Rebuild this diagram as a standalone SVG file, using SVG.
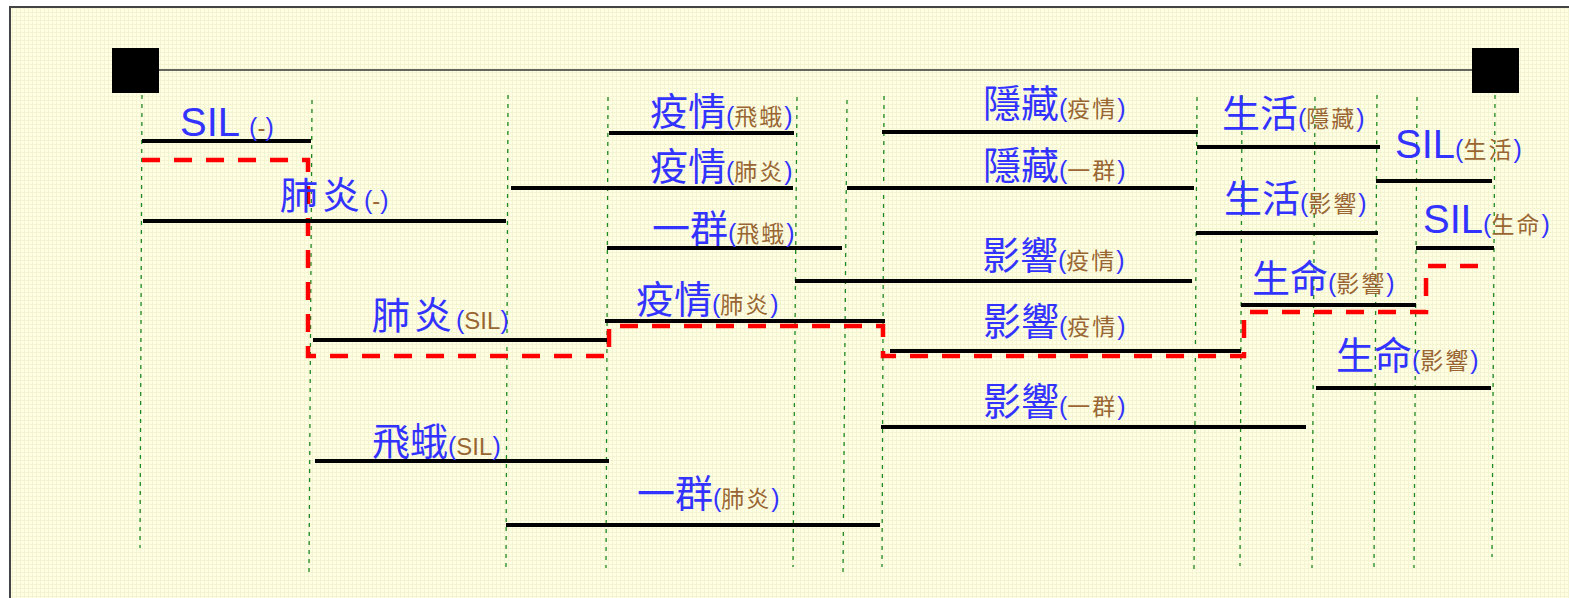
<svg xmlns="http://www.w3.org/2000/svg" width="1569" height="598" viewBox="0 0 1569 598">
<defs>
<pattern id="grid" width="4" height="4" patternUnits="userSpaceOnUse">
<rect width="4" height="4" fill="#ffffe4"/>
<path d="M0 0.5H4M0.5 0V4" stroke="#f4f4d2" stroke-width="1"/>
</pattern>
<style>
.guide{stroke:#1f8a1f;stroke-width:1.3;stroke-dasharray:4 5;fill:none}
.arc{stroke:#000;stroke-width:4;fill:none}
.path{stroke:#ff0000;stroke-width:4.5;stroke-dasharray:18 14;fill:none}
.m{font-family:"Noto Sans CJK TC","Noto Sans CJK SC",sans-serif;font-size:38px;fill:#3333ff}
.s{font-family:"Liberation Sans",Arial,sans-serif;font-size:40px;fill:#3333ff}
.pp{font-family:"Liberation Sans",Arial,sans-serif;font-size:25px;fill:#3333ff}
.b{font-family:"Noto Sans CJK TC","Noto Sans CJK SC",sans-serif;font-size:23px;fill:#996633;letter-spacing:2px}
.bl{font-family:"Liberation Sans",Arial,sans-serif;font-size:24px;fill:#996633}
</style>
</defs>
<rect x="0" y="0" width="1569" height="598" fill="#ffffff"/>
<rect id="frame" x="10" y="7" width="1580" height="610" fill="url(#grid)" stroke="#444444" stroke-width="2"/>

<g id="guides">
<line class="guide" x1="142" y1="95" x2="140" y2="548"/>
<line class="guide" x1="312" y1="100" x2="309" y2="572"/>
<line class="guide" x1="508" y1="95" x2="506" y2="567"/>
<line class="guide" x1="608" y1="97" x2="606" y2="568"/>
<line class="guide" x1="797" y1="97" x2="793" y2="567"/>
<line class="guide" x1="847" y1="100" x2="843" y2="572"/>
<line class="guide" x1="884" y1="96" x2="882" y2="567"/>
<line class="guide" x1="1197" y1="97" x2="1194" y2="570"/>
<line class="guide" x1="1242" y1="95" x2="1240" y2="566"/>
<line class="guide" x1="1315" y1="97" x2="1312" y2="568"/>
<line class="guide" x1="1377" y1="95" x2="1374" y2="567"/>
<line class="guide" x1="1417" y1="97" x2="1414" y2="568"/>
<line class="guide" x1="1495" y1="95" x2="1492" y2="557"/>
</g>

<g id="start"><rect x="112" y="48" width="47" height="45" fill="#000"/></g>
<g id="end"><rect x="1472" y="48" width="47" height="45" fill="#000"/></g>

<g id="connectors">
<line x1="159" y1="70" x2="1472" y2="70" stroke="#333333" stroke-width="1.5"/>
<path class="path" d="M142 160H308V356H609V326H883V356H1244V312H1426V266H1479"/>
</g>

<g id="n1"><line class="arc" x1="142" y1="141" x2="311" y2="141"/>
<text x="180" y="136"><tspan class="s">SIL</tspan><tspan class="pp" dx="9">(</tspan><tspan class="bl">-</tspan><tspan class="pp">)</tspan></text></g>
<g id="n2"><line class="arc" x1="143" y1="221" x2="506" y2="221"/>
<text x="280" y="209"><tspan class="m" letter-spacing="4">肺炎</tspan><tspan class="pp">(</tspan><tspan class="bl">-</tspan><tspan class="pp">)</tspan></text></g>
<g id="n3"><line class="arc" x1="609" y1="133" x2="794" y2="133"/>
<text x="650" y="125"><tspan class="m">疫情</tspan><tspan class="pp">(</tspan><tspan class="b">飛蛾</tspan><tspan class="pp">)</tspan></text></g>
<g id="n4"><line class="arc" x1="511" y1="188" x2="793" y2="188"/>
<text x="650" y="180"><tspan class="m">疫情</tspan><tspan class="pp">(</tspan><tspan class="b">肺炎</tspan><tspan class="pp">)</tspan></text></g>
<g id="n5"><line class="arc" x1="607" y1="248" x2="842" y2="248"/>
<text x="652" y="242"><tspan class="m">一群</tspan><tspan class="pp">(</tspan><tspan class="b">飛蛾</tspan><tspan class="pp">)</tspan></text></g>
<g id="n6"><line class="arc" x1="605" y1="321" x2="885" y2="321"/>
<text x="636" y="313"><tspan class="m">疫情</tspan><tspan class="pp">(</tspan><tspan class="b">肺炎</tspan><tspan class="pp">)</tspan></text></g>
<g id="n7"><line class="arc" x1="882" y1="132" x2="1198" y2="132"/>
<text x="983" y="117"><tspan class="m">隱藏</tspan><tspan class="pp">(</tspan><tspan class="b">疫情</tspan><tspan class="pp">)</tspan></text></g>
<g id="n8"><line class="arc" x1="847" y1="188" x2="1194" y2="188"/>
<text x="983" y="179"><tspan class="m">隱藏</tspan><tspan class="pp">(</tspan><tspan class="b">一群</tspan><tspan class="pp">)</tspan></text></g>
<g id="n9"><line class="arc" x1="795" y1="281" x2="1192" y2="281"/>
<text x="982" y="269"><tspan class="m">影響</tspan><tspan class="pp">(</tspan><tspan class="b">疫情</tspan><tspan class="pp">)</tspan></text></g>
<g id="n10"><line class="arc" x1="890" y1="351" x2="1241" y2="351"/>
<text x="983" y="335"><tspan class="m">影響</tspan><tspan class="pp">(</tspan><tspan class="b">疫情</tspan><tspan class="pp">)</tspan></text></g>
<g id="n11"><line class="arc" x1="881" y1="427" x2="1306" y2="427"/>
<text x="983" y="415"><tspan class="m">影響</tspan><tspan class="pp">(</tspan><tspan class="b">一群</tspan><tspan class="pp">)</tspan></text></g>
<g id="n12"><line class="arc" x1="1197" y1="147" x2="1380" y2="147"/>
<text x="1222" y="127"><tspan class="m">生活</tspan><tspan class="pp">(</tspan><tspan class="b">隱藏</tspan><tspan class="pp">)</tspan></text></g>
<g id="n13"><line class="arc" x1="1196" y1="233" x2="1378" y2="233"/>
<text x="1224" y="212"><tspan class="m">生活</tspan><tspan class="pp">(</tspan><tspan class="b">影響</tspan><tspan class="pp">)</tspan></text></g>
<g id="n14"><line class="arc" x1="1376" y1="181" x2="1492" y2="181"/>
<text x="1395" y="158"><tspan class="s">SIL</tspan><tspan class="pp">(</tspan><tspan class="b">生活</tspan><tspan class="pp">)</tspan></text></g>
<g id="n15"><line class="arc" x1="1416" y1="248" x2="1494" y2="248"/>
<text x="1423" y="233"><tspan class="s">SIL</tspan><tspan class="pp">(</tspan><tspan class="b">生命</tspan><tspan class="pp">)</tspan></text></g>
<g id="n16"><line class="arc" x1="1241" y1="305" x2="1416" y2="305"/>
<text x="1252" y="292"><tspan class="m">生命</tspan><tspan class="pp">(</tspan><tspan class="b">影響</tspan><tspan class="pp">)</tspan></text></g>
<g id="n17"><line class="arc" x1="1316" y1="388" x2="1491" y2="388"/>
<text x="1336" y="369"><tspan class="m">生命</tspan><tspan class="pp">(</tspan><tspan class="b">影響</tspan><tspan class="pp">)</tspan></text></g>
<g id="n18"><line class="arc" x1="313" y1="340" x2="607" y2="340"/>
<text x="372" y="329"><tspan class="m" letter-spacing="4">肺炎</tspan><tspan class="pp">(</tspan><tspan class="bl">SIL</tspan><tspan class="pp">)</tspan></text></g>
<g id="n19"><line class="arc" x1="315" y1="461" x2="609" y2="461"/>
<text x="372" y="455"><tspan class="m">飛蛾</tspan><tspan class="pp">(</tspan><tspan class="bl">SIL</tspan><tspan class="pp">)</tspan></text></g>
<g id="n20"><line class="arc" x1="506" y1="525" x2="880" y2="525"/>
<text x="637" y="507"><tspan class="m">一群</tspan><tspan class="pp">(</tspan><tspan class="b">肺炎</tspan><tspan class="pp">)</tspan></text></g>
</svg>
